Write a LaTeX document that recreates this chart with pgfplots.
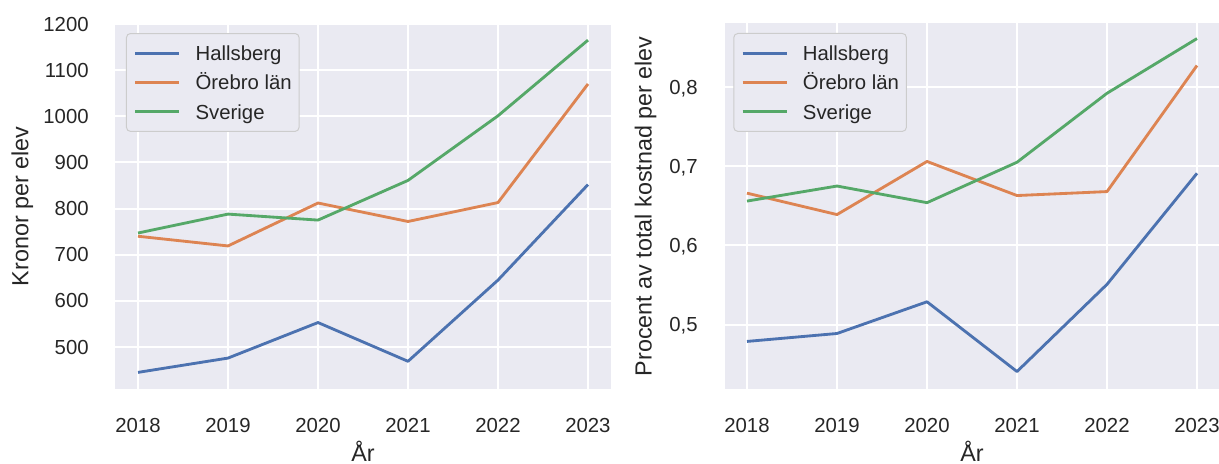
\documentclass[border=0pt]{standalone}
\usepackage{pgfplots}
\pgfplotsset{compat=1.18}
\usepackage{fontspec}
\setmainfont{Liberation Sans}

\definecolor{axbg}{HTML}{EAEAF2}
\definecolor{txt}{HTML}{262626}
\definecolor{sbblue}{HTML}{4C72B0}
\definecolor{sborange}{HTML}{DD8452}
\definecolor{sbgreen}{HTML}{55A868}
\definecolor{legedge}{HTML}{CCCCCC}

% Kronor per elev
\pgfplotstableread{
year hallsberg orebro sverige
2018 445 740 747
2019 476 719 788
2020 553 812 775
2021 469 772 861
2022 645 813 1001
2023 852 1070 1165
}\kronor

% Procent av total kostnad per elev
\pgfplotstableread{
year hallsberg orebro sverige
2018 0.479 0.666 0.656
2019 0.489 0.639 0.675
2020 0.529 0.706 0.654
2021 0.441 0.663 0.705
2022 0.551 0.668 0.792
2023 0.691 0.827 0.861
}\procent

\pgfplotsset{
  sbstyle/.style={
    scale only axis,
    width=297pt, height=219.3pt,
    anchor=south west,
    axis background/.style={fill=axbg},
    axis line style={draw=none},
    tick style={draw=none},
    grid=major,
    major grid style={white, line width=1.2pt},
    xmin=2017.75, xmax=2023.25,
    xtick={2018,...,2023},
    /pgf/number format/assume math mode=true,
    /pgf/number format/1000 sep={},
    tick label style={font=\fontsize{12.2}{14.6}\selectfont, text=txt, inner sep=0pt, text depth=0pt},
    x tick label style={anchor=north, yshift=-17.2pt},
    y tick label style={anchor=east, xshift=-15.9pt},
    every axis x label/.style={at={(axis description cs:0.5,-0.197)}, anchor=base,
      font=\fontsize{14}{16.8}\selectfont, text=txt, inner sep=0pt},
    xlabel={År},
    legend cell align=left,
    legend image code/.code={\draw[##1, line cap=butt] (0pt,0pt) -- (26.4pt,0pt);},
    legend style={
      anchor=north west,
      fill=axbg, draw=legedge, line width=0.6pt, rounded corners=2.4pt,
      inner xsep=4.4pt, inner ysep=7.4pt,
      column sep=9pt, row sep=8.87pt,
      font=\fontsize{12.2}{14.6}\selectfont, text=txt,
      nodes={inner sep=0pt, text height=8.73pt, text depth=0pt},
    },
    every axis plot/.append style={line width=1.7pt, line join=round},
  },
  ylab/.style={every axis y label/.style={at={(axis description cs:#1,0.5)}, rotate=90, anchor=base,
      font=\fontsize{14}{16.8}\selectfont, text=txt, inner sep=0pt}},
}

\begin{document}
\begin{tikzpicture}
\path[use as bounding box] (0,0) rectangle (731.4pt,278.4pt);

\begin{axis}[
  sbstyle,
  at={(69.3pt,45pt)},
  ymin=409, ymax=1201,
  ytick={500,600,...,1200},
  ylab=-0.1761,
  ylabel={Kronor per elev},
  legend style={at={(axis description cs:0.0212,0.974)}},
]
  \addplot[sbblue] table[x=year, y=hallsberg] {\kronor};
  \addplot[sborange] table[x=year, y=orebro] {\kronor};
  \addplot[sbgreen] table[x=year, y=sverige] {\kronor};
  \legend{Hallsberg, Örebro län, Sverige}
\end{axis}

\begin{axis}[
  sbstyle,
  at={(434.7pt,45pt)},
  ymin=0.419, ymax=0.880,
  ytick={0.5,0.6,0.7,0.8},
  y tick label style={/pgf/number format/.cd, fixed, fixed zerofill, precision=1, use comma},
  ylab=-0.1471,
  ylabel={Procent av total kostnad per elev},
  legend style={at={(axis description cs:0.0178,0.974)}},
]
  \addplot[sbblue] table[x=year, y=hallsberg] {\procent};
  \addplot[sborange] table[x=year, y=orebro] {\procent};
  \addplot[sbgreen] table[x=year, y=sverige] {\procent};
  \legend{Hallsberg, Örebro län, Sverige}
\end{axis}
\end{tikzpicture}
\end{document}
